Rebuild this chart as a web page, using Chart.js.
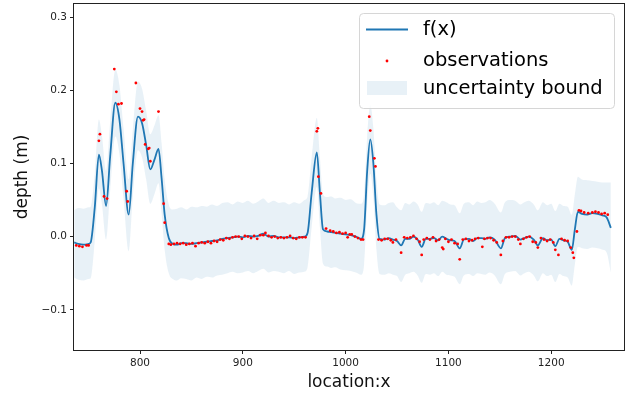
<!DOCTYPE html>
<html>
<head>
<meta charset="utf-8">
<script src="https://cdn.jsdelivr.net/npm/chart.js@4.4.1/dist/chart.umd.min.js"></script>
<style>
    html, body { margin: 0; padding: 0; background: #fff; }
    #wrap { width: 625px; height: 396px; }
</style>
</head>
<body>
<div id="wrap"><canvas id="gp_chart" width="625" height="396"></canvas></div>
<script>
// GP fit
var arrLocation = [736, 740, 745, 750, 752, 756, 760, 763, 767, 771, 776, 780, 784, 789, 793, 798, 802, 806, 810, 814, 818, 821, 824, 828,
    832, 836, 840, 845, 850, 855, 860, 865, 870, 875, 880, 885, 890, 895, 900, 905, 910, 915, 920, 925, 930, 935, 940, 945, 950, 955, 960,
    963, 967, 972, 975, 978, 982, 986, 990, 995, 1000, 1005, 1010, 1015, 1018, 1021, 1024, 1027, 1030, 1033, 1038, 1042, 1046, 1050, 1054,
    1058, 1062, 1066, 1070, 1074, 1078, 1082, 1086, 1090, 1094, 1098, 1102, 1106, 1111, 1115, 1120, 1124, 1128, 1132, 1136, 1140, 1145,
    1151, 1155, 1160, 1165, 1170, 1174, 1178, 1183, 1187, 1192, 1196, 1200, 1204, 1208, 1212, 1216, 1220, 1223, 1226, 1230, 1235, 1240,
    1245, 1250, 1254, 1258];
var arrMean = [-0.008, -0.010, -0.011, -0.010, -0.008, 0.040, 0.112, 0.090, 0.042, 0.110, 0.183, 0.160, 0.100, 0.030, 0.100, 0.164, 0.155,
    0.125, 0.092, 0.105, 0.120, 0.080, 0.030, -0.002, -0.010, -0.011, -0.009, -0.009, -0.010, -0.009, -0.008, -0.007, -0.006, -0.005, -0.003,
    -0.002, -0.001, 0.000, -0.001, 0.001, 0.000, 0.001, 0.004, 0.000, 0.001, -0.001, -0.001, -0.001, -0.002, -0.001, 0.000,
    0.005, 0.060, 0.115, 0.060, 0.010, 0.007, 0.006, 0.005, 0.004, 0.003, 0.002, 0.000, -0.003, 0.010, 0.090, 0.133, 0.100, 0.030, -0.003,
    -0.004, -0.002, -0.004, -0.006, -0.012, -0.003, -0.003, 0.000, -0.004, -0.014, -0.003, -0.003, -0.002, -0.005, 0.000, -0.003, -0.005,
    -0.006, -0.016, -0.004, -0.003, -0.006, -0.002, -0.002, -0.003, -0.001, -0.004, -0.016, -0.002, 0.000, 0.001, -0.004, -0.002, 0.000,
    -0.004, -0.012, -0.002, -0.005, -0.004, -0.013, -0.003, -0.005, -0.007, -0.018, 0.010, 0.034, 0.031, 0.030, 0.032, 0.031, 0.029,
    0.026, 0.012];
var arrUpper = [0.036, 0.039, 0.038, 0.040, 0.041, 0.086, 0.160, 0.138, 0.090, 0.157, 0.228, 0.207, 0.148, 0.078, 0.146, 0.212, 0.202,
    0.172, 0.140, 0.152, 0.166, 0.128, 0.078, 0.044, 0.037, 0.038, 0.040, 0.037, 0.041, 0.040, 0.042, 0.041, 0.044, 0.042, 0.046,
    0.047, 0.044, 0.048, 0.046, 0.049, 0.045, 0.048, 0.052, 0.046, 0.049, 0.046, 0.047, 0.044, 0.047, 0.045, 0.050,
    0.055, 0.108, 0.162, 0.108, 0.058, 0.054, 0.055, 0.052, 0.053, 0.050, 0.051, 0.046, 0.045, 0.058, 0.137, 0.180, 0.148, 0.078, 0.044,
    0.043, 0.046, 0.047, 0.040, 0.036, 0.046, 0.044, 0.048, 0.044, 0.034, 0.046, 0.045, 0.047, 0.043, 0.049, 0.047, 0.044,
    0.043, 0.032, 0.045, 0.047, 0.043, 0.048, 0.046, 0.047, 0.050, 0.045, 0.033, 0.047, 0.050, 0.049, 0.044, 0.047, 0.049,
    0.044, 0.036, 0.047, 0.043, 0.045, 0.035, 0.045, 0.042, 0.041, 0.030, 0.058, 0.082, 0.078, 0.077, 0.076, 0.075, 0.074,
    0.074, 0.074];
var arrLower = [-0.056, -0.059, -0.060, -0.058, -0.057, -0.006, 0.066, 0.044, -0.004, 0.063, 0.137, 0.113, 0.052, -0.020, 0.054, 0.118, 0.108,
    0.078, 0.045, 0.058, 0.073, 0.032, -0.018, -0.050, -0.058, -0.060, -0.057, -0.058, -0.060, -0.056, -0.058, -0.055, -0.056, -0.053, -0.052,
    -0.050, -0.048, -0.050, -0.049, -0.047, -0.050, -0.047, -0.044, -0.049, -0.047, -0.048, -0.050, -0.047, -0.051, -0.049, -0.048,
    -0.042, 0.013, 0.068, 0.013, -0.037, -0.041, -0.043, -0.042, -0.045, -0.046, -0.047, -0.049, -0.052, -0.038, 0.042, 0.086, 0.053, -0.018, -0.051,
    -0.052, -0.050, -0.052, -0.054, -0.062, -0.052, -0.050, -0.048, -0.053, -0.063, -0.051, -0.052, -0.050, -0.054, -0.048, -0.052, -0.053,
    -0.055, -0.065, -0.053, -0.051, -0.054, -0.050, -0.051, -0.052, -0.049, -0.053, -0.065, -0.051, -0.048, -0.047, -0.053, -0.050, -0.048,
    -0.053, -0.061, -0.050, -0.054, -0.052, -0.062, -0.051, -0.054, -0.056, -0.067, -0.038, -0.014, -0.016, -0.017, -0.015, -0.016, -0.018,
    -0.022, -0.049];

var arrObsX = [738, 741, 744, 748, 750, 760, 761, 765, 768, 775, 777, 779, 782, 787, 788, 796, 800, 802, 803, 804, 805, 808, 809, 810,
    818, 823, 824, 828, 830, 833, 836, 839, 842, 845, 848, 851, 854, 857, 860, 863, 866, 869, 872, 875, 878, 881, 884, 887, 890, 893,
    896, 899, 902, 905, 908, 911, 914, 917, 920, 922, 925, 928, 931, 934, 937, 940, 943, 946, 949, 952, 955, 958, 961, 972, 973, 973.5,
    976, 981, 985, 988, 991, 994, 997, 1000, 1002, 1004, 1006, 1009, 1012, 1015, 1017, 1023, 1024, 1028, 1029, 1032, 1035, 1038, 1041,
    1044, 1046, 1049, 1054, 1057, 1060, 1063, 1066, 1069, 1072, 1074, 1076, 1079, 1082, 1085, 1088, 1091, 1094, 1095, 1097, 1100, 1103,
    1106, 1109, 1111, 1114, 1117, 1120, 1123, 1126, 1129, 1133, 1135, 1138, 1141, 1144, 1147, 1151, 1153, 1156, 1159, 1162, 1165, 1168,
    1170, 1173, 1176, 1179, 1182, 1185, 1187, 1190, 1193, 1196, 1199, 1202, 1204, 1207, 1210, 1213, 1216, 1219, 1221, 1222, 1225, 1227,
    1229, 1232, 1236, 1240, 1243, 1246, 1249, 1252, 1255];
var arrObsY = [-0.012, -0.013, -0.014, -0.012, -0.012, 0.131, 0.140, 0.055, 0.052, 0.229, 0.198, 0.181, 0.182, 0.062, 0.048, 0.210, 0.175,
    0.171, 0.159, 0.160, 0.126, 0.120, 0.121, 0.103, 0.171, 0.045, 0.019, -0.010, -0.011, -0.010, -0.009, -0.010, -0.009, -0.011, -0.010,
    -0.009, -0.013, -0.009, -0.008, -0.009, -0.007, -0.009, -0.006, -0.007, -0.004, -0.005, -0.002, -0.003, -0.001, 0.000, 0.000, -0.003,
    0.001, 0.000, -0.002, 0.001, -0.003, 0.002, 0.002, 0.005, 0.001, -0.001, 0.000, -0.002, -0.001, -0.002, -0.001, 0.001, -0.002, -0.003,
    -0.001, -0.001, -0.001, 0.144, 0.148, 0.082, 0.059, 0.011, 0.008, 0.007, 0.005, 0.006, 0.004, 0.005, -0.001, 0.003, 0.003, 0.000,
    -0.002, -0.004, -0.004, 0.164, 0.145, 0.107, 0.096, -0.004, -0.005, -0.003, -0.003, -0.005, -0.008, -0.004, -0.022, -0.001, -0.002,
    -0.001, 0.001, -0.003, -0.007, -0.025, -0.004, -0.002, -0.004, -0.001, -0.006, -0.004, -0.015, -0.017, -0.003, -0.007, -0.004, -0.009,
    -0.010, -0.031, -0.004, -0.003, -0.006, -0.005, -0.003, -0.002, -0.014, -0.003, -0.002, -0.002, -0.005, -0.008, -0.025, -0.006, -0.001,
    -0.001, 0.000, 0.000, -0.004, -0.010, -0.003, -0.001, 0.000, -0.007, -0.008, -0.015, -0.002, -0.004, -0.006, -0.004, -0.008, -0.018,
    -0.025, -0.003, -0.005, -0.006, -0.015, -0.022, -0.029, 0.007, 0.036, 0.035, 0.033, 0.032, 0.033, 0.034, 0.033, 0.031, 0.032, 0.030];

var arrXTicks = [800, 900, 1000, 1100, 1200];
var arrYTicks = [-0.1, 0.0, 0.1, 0.2, 0.3];
var arrLegend = ['f(x)', 'observations', 'uncertainty bound'];

var strBlue = '#1f77b4';
var strBand = 'rgba(31, 119, 180, 0.1)';
var strFont = "'DejaVu Sans', sans-serif";

function toPoints(arrX, arrY) {
    return arrX.map(function (x, i) {
        return { x: x, y: arrY[i] };
    });
}

function fmtY(value) {
    if (value < 0) {
        return '\u2212' + Math.abs(value).toFixed(1);
    }
    return value.toFixed(1);
}

// matplotlib-ish spines on all four sides
var frameBox = {
    id: 'frameBox',
    afterDatasetsDraw: function (chart) {
        const ctx = chart.ctx;
        const a = chart.chartArea;
        ctx.save();
        ctx.strokeStyle = '#222';
        ctx.lineWidth = 1;
        ctx.strokeRect(a.left - 0.5, a.top - 0.5, a.right - a.left + 1, a.bottom - a.top + 1);
        ctx.restore();
    }
};

var legendBox = {
    id: 'legendBox',
    afterDraw: function (chart) {
        const ctx = chart.ctx;
        ctx.save();
        ctx.beginPath();
        ctx.roundRect(359.5, 13.5, 255, 95, 4);
        ctx.fillStyle = 'rgba(255, 255, 255, 0.8)';
        ctx.fill();
        ctx.strokeStyle = '#d6d6d6';
        ctx.lineWidth = 1;
        ctx.stroke();

        ctx.beginPath();
        ctx.moveTo(366, 29.5);
        ctx.lineTo(408, 29.5);
        ctx.strokeStyle = strBlue;
        ctx.lineWidth = 1.8;
        ctx.stroke();

        ctx.beginPath();
        ctx.arc(387, 61, 1.4, 0, Math.PI * 2);
        ctx.fillStyle = 'red';
        ctx.fill();

        ctx.fillStyle = strBand;
        ctx.fillRect(367, 81, 40, 14);

        ctx.fillStyle = '#000';
        ctx.font = '19.5px ' + strFont;
        ctx.textBaseline = 'middle';
        ctx.textAlign = 'left';
        ctx.fillText(arrLegend[0], 423, 30);
        ctx.fillText(arrLegend[1], 423, 61);
        ctx.fillText(arrLegend[2], 423, 89);
        ctx.restore();
    }
};

var ctx = document.getElementById('gp_chart').getContext('2d');
var objChart = new Chart(ctx, {
    type: 'line',
    data: {
        datasets: [
            {
                label: 'lower',
                data: toPoints(arrLocation, arrLower),
                borderWidth: 0,
                borderColor: 'rgba(0,0,0,0)',
                pointRadius: 0,
                fill: false,
                cubicInterpolationMode: 'monotone',
                order: 3
            },
            {
                label: arrLegend[2],
                data: toPoints(arrLocation, arrUpper),
                borderWidth: 0,
                borderColor: 'rgba(0,0,0,0)',
                backgroundColor: strBand,
                pointRadius: 0,
                fill: '-1',
                cubicInterpolationMode: 'monotone',
                order: 2
            },
            {
                label: arrLegend[0],
                data: toPoints(arrLocation, arrMean),
                borderColor: strBlue,
                borderWidth: 1.8,
                pointRadius: 0,
                fill: false,
                cubicInterpolationMode: 'monotone',
                order: 1
            },
            {
                label: arrLegend[1],
                data: toPoints(arrObsX, arrObsY),
                showLine: false,
                pointRadius: 1.4,
                pointBorderWidth: 0,
                pointBackgroundColor: 'red',
                pointBorderColor: 'red',
                order: 0
            }
        ]
    },
    options: {
        responsive: false,
        animation: false,
        events: [],
        layout: {
            autoPadding: false,
            padding: { top: 4, right: 1, left: 0, bottom: 0 }
        },
        plugins: {
            legend: { display: false },
            tooltip: { enabled: false }
        },
        scales: {
            x: {
                type: 'linear',
                min: 735.8,
                max: 1270.8,
                afterBuildTicks: function (scale) {
                    scale.ticks = arrXTicks.map(function (v) { return { value: v }; });
                },
                afterFit: function (scale) {
                    scale.height = 46;
                    scale.paddingLeft = 0;
                    scale.paddingRight = 0;
                },
                border: { display: false },
                grid: {
                    drawOnChartArea: false,
                    drawTicks: true,
                    tickLength: 4,
                    tickColor: '#222'
                },
                ticks: {
                    padding: 3,
                    color: '#222',
                    font: { family: strFont, size: 10.5 },
                    maxRotation: 0,
                    callback: function (value) {
                        return String(value);
                    }
                },
                title: {
                    display: true,
                    text: 'location:x',
                    color: '#111',
                    font: { family: strFont, size: 17 },
                    padding: { top: 0, bottom: 3 }
                }
            },
            y: {
                type: 'linear',
                min: -0.155,
                max: 0.318,
                afterBuildTicks: function (scale) {
                    scale.ticks = arrYTicks.map(function (v) { return { value: v }; });
                },
                afterFit: function (scale) {
                    scale.width = 74;
                    scale.paddingTop = 0;
                    scale.paddingBottom = 0;
                },
                border: { display: false },
                grid: {
                    drawOnChartArea: false,
                    drawTicks: true,
                    tickLength: 4,
                    tickColor: '#222'
                },
                ticks: {
                    padding: 3,
                    color: '#222',
                    font: { family: strFont, size: 10.5 },
                    callback: function (value) {
                        return fmtY(value);
                    }
                },
                title: {
                    display: true,
                    text: 'depth (m)',
                    color: '#111',
                    font: { family: strFont, size: 17 },
                    padding: { top: 12, bottom: 0 }
                }
            }
        }
    },
    plugins: [frameBox, legendBox]
});
</script>
</body>
</html>
